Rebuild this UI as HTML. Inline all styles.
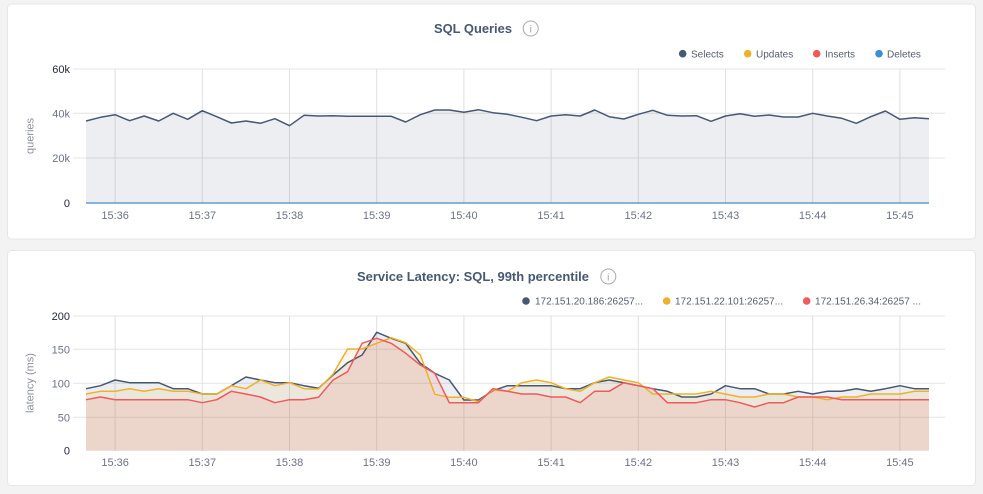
<!DOCTYPE html>
<html><head><meta charset="utf-8"><style>
html,body{margin:0;padding:0;background:#f3f3f3;}
svg{display:block;font-family:"Liberation Sans",sans-serif;}
</style></head><body>
<svg width="983" height="494" viewBox="0 0 983 494" xmlns="http://www.w3.org/2000/svg">
<rect x="0" y="0" width="983" height="494" fill="#f3f3f3"/>
<rect x="7.5" y="4" width="968" height="235" rx="4" fill="#fff" stroke="#e6e6e6"/>
<rect x="7.5" y="250.5" width="968" height="235" rx="4" fill="#fff" stroke="#e6e6e6"/>

<!-- TOP CHART -->
<text x="434" y="33" font-size="13" font-weight="bold" fill="#475872" textLength="78" lengthAdjust="spacingAndGlyphs">SQL Queries</text>
<circle cx="530.7" cy="28.5" r="7.5" fill="none" stroke="#a8a8a8" stroke-width="1"/>
<text x="530.7" y="32.5" font-size="10" fill="#a0a0a0" text-anchor="middle">i</text>

<g font-size="10" fill="#555e6e">
<circle cx="682.7" cy="53.7" r="3.8" fill="#475872"/><text x="691" y="57.3">Selects</text>
<circle cx="747.7" cy="53.7" r="3.8" fill="#f0b02a"/><text x="756" y="57.3">Updates</text>
<circle cx="816.7" cy="53.7" r="3.8" fill="#f05a5a"/><text x="825" y="57.3">Inserts</text>
<circle cx="879" cy="53.7" r="3.8" fill="#3d8fd1"/><text x="887" y="57.3">Deletes</text>
</g>

<g stroke="#e4e4e4" stroke-width="1">
<line x1="73" y1="69" x2="945" y2="69"/>
<line x1="73" y1="113.3" x2="945" y2="113.3"/>
<line x1="73" y1="158" x2="945" y2="158"/>
</g>
<g stroke="#e0e0e0" stroke-width="1">
<line x1="115.1" y1="69" x2="115.1" y2="203"/>
<line x1="202.3" y1="69" x2="202.3" y2="203"/>
<line x1="289.5" y1="69" x2="289.5" y2="203"/>
<line x1="376.7" y1="69" x2="376.7" y2="203"/>
<line x1="463.9" y1="69" x2="463.9" y2="203"/>
<line x1="551.1" y1="69" x2="551.1" y2="203"/>
<line x1="638.3" y1="69" x2="638.3" y2="203"/>
<line x1="725.5" y1="69" x2="725.5" y2="203"/>
<line x1="812.7" y1="69" x2="812.7" y2="203"/>
<line x1="899.9" y1="69" x2="899.9" y2="203"/>
</g>
<polygon fill="rgba(71,88,114,0.1)" points="86,121 100.5,117.3 115.1,114.7 129.6,120.7 144.1,116 158.7,121 173.2,113.3 187.7,119.3 202.3,110.7 216.8,116.7 231.3,123 245.9,121 260.4,123.3 274.9,118.7 289.5,125.7 304,115.3 318.5,116 333.1,115.7 347.6,116.3 362.1,116.3 376.7,116.3 391.2,116.3 405.7,122 420.3,114.7 434.8,110 449.3,110 463.9,112.3 478.4,109.7 492.9,112.7 507.5,114.3 522,117.3 536.6,120.7 551.1,116 565.6,114.7 580.2,116 594.7,110 609.2,116.7 623.8,119 638.3,114.3 652.8,110.3 667.4,115.3 681.9,116 696.4,115.7 711,121.3 725.5,116 740,113.7 754.6,116.3 769.1,115 783.6,117 798.2,117 812.7,113.3 827.2,116 841.8,118.3 856.3,123.3 870.8,116.7 885.4,111 899.9,119.3 914.4,117.7 929,118.7 929,203 86,203"/>
<polyline fill="none" stroke="#475872" stroke-width="1.5" stroke-linejoin="round" points="86,121 100.5,117.3 115.1,114.7 129.6,120.7 144.1,116 158.7,121 173.2,113.3 187.7,119.3 202.3,110.7 216.8,116.7 231.3,123 245.9,121 260.4,123.3 274.9,118.7 289.5,125.7 304,115.3 318.5,116 333.1,115.7 347.6,116.3 362.1,116.3 376.7,116.3 391.2,116.3 405.7,122 420.3,114.7 434.8,110 449.3,110 463.9,112.3 478.4,109.7 492.9,112.7 507.5,114.3 522,117.3 536.6,120.7 551.1,116 565.6,114.7 580.2,116 594.7,110 609.2,116.7 623.8,119 638.3,114.3 652.8,110.3 667.4,115.3 681.9,116 696.4,115.7 711,121.3 725.5,116 740,113.7 754.6,116.3 769.1,115 783.6,117 798.2,117 812.7,113.3 827.2,116 841.8,118.3 856.3,123.3 870.8,116.7 885.4,111 899.9,119.3 914.4,117.7 929,118.7"/>
<line x1="86" y1="203" x2="929" y2="203" stroke="#4a8ac4" stroke-width="1.2"/>

<g font-size="11" text-anchor="end">
<text x="70" y="73" fill="#1f2638">60k</text>
<text x="70" y="117.5" fill="#6b7385">40k</text>
<text x="70" y="162" fill="#6b7385">20k</text>
<text x="70" y="207" fill="#1f2638">0</text>
</g>
<text transform="translate(33.5,136) rotate(-90)" font-size="11" fill="#8a909c" text-anchor="middle">queries</text>
<g font-size="11" fill="#6b7385" text-anchor="middle">
<text x="115.1" y="219">15:36</text>
<text x="202.3" y="219">15:37</text>
<text x="289.5" y="219">15:38</text>
<text x="376.7" y="219">15:39</text>
<text x="463.9" y="219">15:40</text>
<text x="551.1" y="219">15:41</text>
<text x="638.3" y="219">15:42</text>
<text x="725.5" y="219">15:43</text>
<text x="812.7" y="219">15:44</text>
<text x="899.9" y="219">15:45</text>
</g>

<!-- BOTTOM CHART -->
<text x="357" y="281" font-size="13" font-weight="bold" fill="#475872" textLength="232" lengthAdjust="spacingAndGlyphs">Service Latency: SQL, 99th percentile</text>
<circle cx="608.3" cy="276.5" r="7.5" fill="none" stroke="#a8a8a8" stroke-width="1"/>
<text x="608.3" y="280.5" font-size="10" fill="#a0a0a0" text-anchor="middle">i</text>

<g font-size="10" fill="#555e6e">
<circle cx="526" cy="301" r="3.8" fill="#475872"/><text x="535" y="304.6" textLength="108" lengthAdjust="spacingAndGlyphs">172.151.20.186:26257...</text>
<circle cx="666.7" cy="301" r="3.8" fill="#f0b02a"/><text x="675" y="304.6" textLength="108" lengthAdjust="spacingAndGlyphs">172.151.22.101:26257...</text>
<circle cx="806.7" cy="301" r="3.8" fill="#f05a5a"/><text x="815" y="304.6" textLength="106" lengthAdjust="spacingAndGlyphs">172.151.26.34:26257 ...</text>
</g>

<g stroke="#e4e4e4" stroke-width="1">
<line x1="73" y1="316" x2="945" y2="316"/>
<line x1="73" y1="349.3" x2="945" y2="349.3"/>
<line x1="73" y1="383.3" x2="945" y2="383.3"/>
<line x1="73" y1="417.3" x2="945" y2="417.3"/>
</g>
<g stroke="#e0e0e0" stroke-width="1">
<line x1="115.1" y1="316" x2="115.1" y2="450.7"/>
<line x1="202.3" y1="316" x2="202.3" y2="450.7"/>
<line x1="289.5" y1="316" x2="289.5" y2="450.7"/>
<line x1="376.7" y1="316" x2="376.7" y2="450.7"/>
<line x1="463.9" y1="316" x2="463.9" y2="450.7"/>
<line x1="551.1" y1="316" x2="551.1" y2="450.7"/>
<line x1="638.3" y1="316" x2="638.3" y2="450.7"/>
<line x1="725.5" y1="316" x2="725.5" y2="450.7"/>
<line x1="812.7" y1="316" x2="812.7" y2="450.7"/>
<line x1="899.9" y1="316" x2="899.9" y2="450.7"/>
</g>

<polygon fill="rgba(71,88,114,0.1)" points="86,388.7 100.5,385.7 115.1,380 129.6,382.7 144.1,382.7 158.7,382.7 173.2,388.7 187.7,388.7 202.3,394 216.8,394 231.3,385.7 245.9,377 260.4,380 274.9,382.7 289.5,382.7 304,385.7 318.5,388.3 333.1,375 347.6,362.7 362.1,355 376.7,332.3 391.2,338.3 405.7,343.3 420.3,363.3 434.8,373.3 449.3,380 463.9,400 478.4,400 492.9,390.7 507.5,385.7 522,385.7 536.6,385.7 551.1,385.7 565.6,388.7 580.2,388.7 594.7,382.7 609.2,380 623.8,382.7 638.3,385.7 652.8,388.7 667.4,391.3 681.9,397 696.4,397 711,394 725.5,385.7 740,388.7 754.6,388.7 769.1,394 783.6,394 798.2,391.3 812.7,394 827.2,391.3 841.8,391.3 856.3,388.7 870.8,391.3 885.4,388.7 899.9,385.7 914.4,388.7 929,388.7 929,450.7 86,450.7"/>
<polygon fill="rgba(240,176,42,0.1)" points="86,394 100.5,391.3 115.1,391.3 129.6,388.7 144.1,391.3 158.7,388.7 173.2,391.3 187.7,391.3 202.3,394 216.8,394 231.3,385.7 245.9,388.7 260.4,380 274.9,385.7 289.5,382.7 304,388.7 318.5,389 333.1,374 347.6,349 362.1,349 376.7,343.3 391.2,337.7 405.7,342.7 420.3,355 434.8,394.3 449.3,397.3 463.9,397.3 478.4,401.7 492.9,390 507.5,391.3 522,382.7 536.6,380 551.1,382.7 565.6,388.7 580.2,391.3 594.7,382.7 609.2,377 623.8,380 638.3,382.7 652.8,394 667.4,394 681.9,394 696.4,394 711,391.3 725.5,394 740,397 754.6,397 769.1,394 783.6,394 798.2,397 812.7,397 827.2,399.7 841.8,397 856.3,397 870.8,394 885.4,394 899.9,394 914.4,391.3 929,391.3 929,450.7 86,450.7"/>
<polygon fill="rgba(240,90,90,0.12)" points="86,399.7 100.5,397 115.1,399.7 129.6,399.7 144.1,399.7 158.7,399.7 173.2,399.7 187.7,399.7 202.3,402.7 216.8,399.7 231.3,391.3 245.9,394 260.4,397 274.9,402.7 289.5,399.7 304,399.7 318.5,397.3 333.1,380 347.6,371.7 362.1,343.3 376.7,338.3 391.2,343.3 405.7,353.3 420.3,365 434.8,373.3 449.3,402.7 463.9,402.7 478.4,402.7 492.9,388.7 507.5,391.3 522,394 536.6,394 551.1,397 565.6,397 580.2,402.7 594.7,391.3 609.2,391.3 623.8,382.7 638.3,385.7 652.8,388.7 667.4,402.7 681.9,402.7 696.4,402.7 711,399.7 725.5,399.7 740,402.7 754.6,407 769.1,402.7 783.6,402.7 798.2,397 812.7,397 827.2,397 841.8,399.7 856.3,399.7 870.8,399.7 885.4,399.7 899.9,399.7 914.4,399.7 929,399.7 929,450.7 86,450.7"/>

<polyline fill="none" stroke="#475872" stroke-width="1.5" stroke-linejoin="round" points="86,388.7 100.5,385.7 115.1,380 129.6,382.7 144.1,382.7 158.7,382.7 173.2,388.7 187.7,388.7 202.3,394 216.8,394 231.3,385.7 245.9,377 260.4,380 274.9,382.7 289.5,382.7 304,385.7 318.5,388.3 333.1,375 347.6,362.7 362.1,355 376.7,332.3 391.2,338.3 405.7,343.3 420.3,363.3 434.8,373.3 449.3,380 463.9,400 478.4,400 492.9,390.7 507.5,385.7 522,385.7 536.6,385.7 551.1,385.7 565.6,388.7 580.2,388.7 594.7,382.7 609.2,380 623.8,382.7 638.3,385.7 652.8,388.7 667.4,391.3 681.9,397 696.4,397 711,394 725.5,385.7 740,388.7 754.6,388.7 769.1,394 783.6,394 798.2,391.3 812.7,394 827.2,391.3 841.8,391.3 856.3,388.7 870.8,391.3 885.4,388.7 899.9,385.7 914.4,388.7 929,388.7"/>
<polyline fill="none" stroke="#f0b02a" stroke-width="1.5" stroke-linejoin="round" points="86,394 100.5,391.3 115.1,391.3 129.6,388.7 144.1,391.3 158.7,388.7 173.2,391.3 187.7,391.3 202.3,394 216.8,394 231.3,385.7 245.9,388.7 260.4,380 274.9,385.7 289.5,382.7 304,388.7 318.5,389 333.1,374 347.6,349 362.1,349 376.7,343.3 391.2,337.7 405.7,342.7 420.3,355 434.8,394.3 449.3,397.3 463.9,397.3 478.4,401.7 492.9,390 507.5,391.3 522,382.7 536.6,380 551.1,382.7 565.6,388.7 580.2,391.3 594.7,382.7 609.2,377 623.8,380 638.3,382.7 652.8,394 667.4,394 681.9,394 696.4,394 711,391.3 725.5,394 740,397 754.6,397 769.1,394 783.6,394 798.2,397 812.7,397 827.2,399.7 841.8,397 856.3,397 870.8,394 885.4,394 899.9,394 914.4,391.3 929,391.3"/>
<polyline fill="none" stroke="#f05a5a" stroke-width="1.5" stroke-linejoin="round" points="86,399.7 100.5,397 115.1,399.7 129.6,399.7 144.1,399.7 158.7,399.7 173.2,399.7 187.7,399.7 202.3,402.7 216.8,399.7 231.3,391.3 245.9,394 260.4,397 274.9,402.7 289.5,399.7 304,399.7 318.5,397.3 333.1,380 347.6,371.7 362.1,343.3 376.7,338.3 391.2,343.3 405.7,353.3 420.3,365 434.8,373.3 449.3,402.7 463.9,402.7 478.4,402.7 492.9,388.7 507.5,391.3 522,394 536.6,394 551.1,397 565.6,397 580.2,402.7 594.7,391.3 609.2,391.3 623.8,382.7 638.3,385.7 652.8,388.7 667.4,402.7 681.9,402.7 696.4,402.7 711,399.7 725.5,399.7 740,402.7 754.6,407 769.1,402.7 783.6,402.7 798.2,397 812.7,397 827.2,397 841.8,399.7 856.3,399.7 870.8,399.7 885.4,399.7 899.9,399.7 914.4,399.7 929,399.7"/>

<g font-size="11" text-anchor="end">
<text x="70" y="320" fill="#1f2638">200</text>
<text x="70" y="353.3" fill="#6b7385">150</text>
<text x="70" y="387.3" fill="#6b7385">100</text>
<text x="70" y="421.3" fill="#6b7385">50</text>
<text x="70" y="454.7" fill="#1f2638">0</text>
</g>
<text transform="translate(33.5,383) rotate(-90)" font-size="11" fill="#8a909c" text-anchor="middle">latency (ms)</text>
<g font-size="11" fill="#6b7385" text-anchor="middle">
<text x="115.1" y="466">15:36</text>
<text x="202.3" y="466">15:37</text>
<text x="289.5" y="466">15:38</text>
<text x="376.7" y="466">15:39</text>
<text x="463.9" y="466">15:40</text>
<text x="551.1" y="466">15:41</text>
<text x="638.3" y="466">15:42</text>
<text x="725.5" y="466">15:43</text>
<text x="812.7" y="466">15:44</text>
<text x="899.9" y="466">15:45</text>
</g>
</svg>
</body></html>
